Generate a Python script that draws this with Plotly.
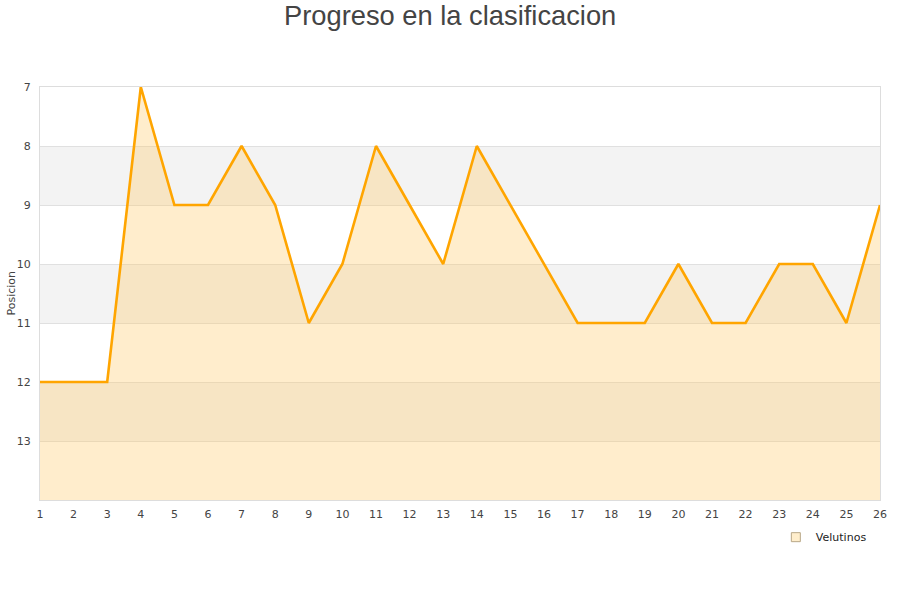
import plotly.graph_objects as go

jornadas = list(range(1, 27))
posiciones = [12, 12, 12, 7, 9, 9, 8, 9, 11, 10, 8, 9, 10, 8, 9, 10, 11, 11, 11, 10, 11, 11, 10, 10, 11, 9]
equipo = "Velutinos"
titulo = "Progreso en la clasificacion"
y_ticks = [7, 8, 9, 10, 11, 12, 13]
bandas = [(8, 9), (10, 11), (12, 13)]

fig = go.Figure()

# baseline at bottom of reversed axis
fig.add_trace(go.Scatter(x=jornadas, y=[14] * len(jornadas), mode="lines",
                         line=dict(width=0), hoverinfo="skip", showlegend=False))
fig.add_trace(go.Scatter(x=jornadas, y=posiciones, mode="lines", fill="tonexty",
                         fillcolor="rgba(255,200,100,0.33)",
                         line=dict(color="#FFA500", width=2.6), showlegend=False, name=equipo))
# legend entry
fig.add_trace(go.Scatter(x=[None], y=[None], mode="markers", name=equipo,
                         marker=dict(symbol="square", size=9, color="#FFEECC",
                                     line=dict(color="#B8A888", width=1))))

for a, b in bandas:
    fig.add_shape(type="rect", xref="x", yref="y", x0=1, x1=26, y0=a, y1=b,
                  fillcolor="#F3F3F3", line=dict(width=0), layer="below")

# title
fig.add_annotation(text=titulo, xref="paper", yref="paper", x=0.488, y=1.174,
                   xanchor="center", yanchor="middle", showarrow=False,
                   font=dict(family="Liberation Sans, Arial", size=27.3, color="#444444"))
# y axis title
fig.add_annotation(text="Posicion", xref="paper", yref="paper", x=-0.0345, y=0.5,
                   xanchor="center", yanchor="middle", textangle=-90, showarrow=False,
                   font=dict(size=11, color="#444444"))

fig.update_layout(
    width=900, height=600,
    paper_bgcolor="white", plot_bgcolor="white",
    margin=dict(l=40, r=20, t=87, b=100, autoexpand=False),
    font=dict(family="DejaVu Sans, Verdana", size=11, color="#444444"),
    showlegend=True,
    legend=dict(x=0.876, y=-0.09, xanchor="left", yanchor="middle",
                font=dict(size=11, color="#222222"), bgcolor="rgba(0,0,0,0)",
                itemwidth=30),
)
fig.update_xaxes(range=[1, 26], tickmode="array", tickvals=jornadas,
                 showgrid=False, zeroline=False, showline=True, linecolor="#DDDDDD",
                 mirror=True, ticks="", ticklabelstandoff=4, automargin=False,
                 tickfont=dict(size=11, color="#444444"))
fig.update_yaxes(range=[14, 7], tickmode="array", tickvals=y_ticks,
                 showgrid=True, gridcolor="#E0E0E0", zeroline=False,
                 showline=True, linecolor="#DDDDDD", mirror=True, ticks="",
                 ticklabelstandoff=6, automargin=False,
                 tickfont=dict(size=11, color="#444444"))

fig.write_html("out.html", config={"displayModeBar": False},
               post_script="document.body.style.margin='0';")
